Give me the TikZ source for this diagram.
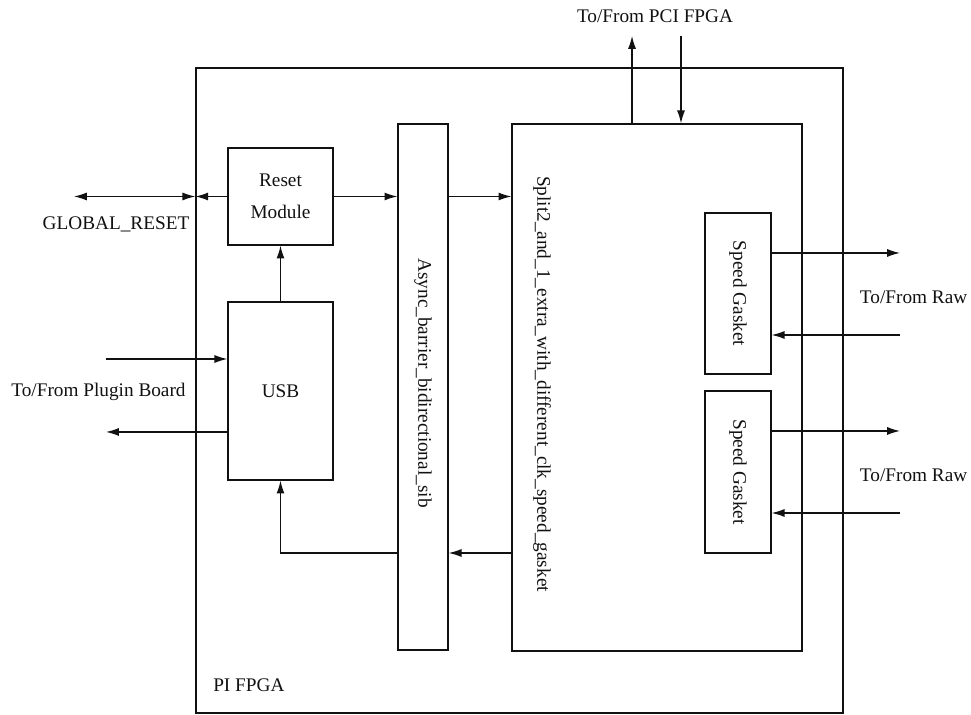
\documentclass[tikz,border=0pt]{standalone}
\usepackage{fontspec}
\setmainfont{Liberation Serif}
\usetikzlibrary{arrows.meta,calc}
\definecolor{Ink}{HTML}{111111}
\newcommand{\fpgafont}{\fontsize{13.7}{22.7}\selectfont}
\tikzset{
  fpgaFrame/.style={rectangle,draw=Ink,line width=1pt,inner sep=0pt,
    text=Ink,font=\fpgafont},
  fpgaBlock/.style={fpgaFrame,align=center},
  vtext/.style={rotate=-90,text=Ink,font=\fpgafont,inner sep=0pt},
  portlabel/.style={text=Ink,font=\fpgafont,inner sep=0pt},
  sig/.style={-{Latex[length=3.2mm,width=2mm]},draw=Ink,line width=.9pt},
  sigBoth/.style={{Latex[length=3.2mm,width=2mm]}-{Latex[length=3.2mm,width=2mm]},
    draw=Ink,line width=.9pt}
}

\begin{document}
\begin{tikzpicture}[x=1cm,y=1cm]
  \useasboundingbox (0,0) rectangle (24.275,17.875);
  % blocks
  \node[fpgaFrame,minimum width=16.175cm,minimum height=16.125cm] (pi) at (12.9875,8.1125) {};
  \node[fpgaBlock,minimum width=2.625cm,minimum height=2.425cm] (reset) at (7.0125,12.9625) {Reset\\Module};
  \node[fpgaBlock,minimum width=2.625cm,minimum height=4.45cm] (usb) at (7.0125,8.1) {USB};
  \node[fpgaFrame,minimum width=1.25cm,minimum height=13.15cm] (async) at (10.575,8.2) {};
  \node[fpgaFrame,minimum width=7.25cm,minimum height=13.175cm] (split) at (16.425,8.1875) {};
  \node[fpgaFrame,minimum width=1.65cm,minimum height=4.025cm] (sgA) at (18.45,10.5375) {};
  \node[fpgaFrame,minimum width=1.65cm,minimum height=4.05cm] (sgB) at (18.45,6.075) {};
  \node[vtext] (asyncText) at (10.575,8.3) {Async\_barrier\_bidirectional\_sib};
  \node[vtext] (splitText) at (13.55,8.275) {Split2\_and\_1\_extra\_with\_different\_clk\_speed\_gasket};
  \node[vtext] (sgAText) at (sgA) {Speed Gasket};
  \node[vtext] (sgBText) at (sgB) {Speed Gasket};
  % labels
  \node[portlabel] (glbl) at (2.9,12.275) {GLOBAL\_RESET};
  \node[portlabel] (plug) at (2.4625,8.075) {To/From Plugin Board};
  \node[portlabel] (pci) at (16.375,17.475) {To/From PCI FPGA};
  \node[portlabel] (rawA) at (22.84,10.45) {To/From Raw};
  \node[portlabel] (rawB) at (22.84,6.0) {To/From Raw};
  \node[portlabel,anchor=west] (piName) at (5.325,0.75) {PI FPGA};
  % free ends
  \coordinate (gr) at (1.85,12.9625);
  \coordinate (plugIn) at (2.65,8.9);
  \coordinate (plugOut) at (2.65,7.075);
  \coordinate (fbk) at (6.925,4.05);
  \coordinate (pciOut) at (15.8,16.975);
  \coordinate (pciIn) at (17.025,16.975);
  \coordinate (rawOutA) at (22.5,11.55);
  \coordinate (rawInA) at (22.5,9.5);
  \coordinate (rawOutB) at (22.5,7.1);
  \coordinate (rawInB) at (22.5,5.05);
  % connectors
  \draw[sigBoth] (gr) -- (reset.west -| pi.west);
  \draw[sig] (reset.west) -- (reset.west -| pi.west);
  \draw[sig] (reset.east) -- (reset.east -| async.west);
  \draw[sig] (reset.east -| async.east) -- (reset.east -| split.west);
  \draw[sig] (usb.north) -- (reset.south);
  \draw[sig] (plugIn) -- (plugIn -| usb.west);
  \draw[sig] (plugOut -| usb.west) -- (plugOut);
  \draw[sig] (fbk -| split.west) -- (fbk -| async.east);
  \draw[sig] (fbk -| async.west) -| (usb.south);
  \draw[sig] (pciOut |- split.north) -- (pciOut);
  \draw[sig] (pciIn) -- (pciIn |- split.north);
  \draw[sig] (rawOutA -| sgA.east) -- (rawOutA);
  \draw[sig] (rawInA) -- (rawInA -| sgA.east);
  \draw[sig] (rawOutB -| sgB.east) -- (rawOutB);
  \draw[sig] (rawInB) -- (rawInB -| sgB.east);
\end{tikzpicture}
\end{document}
